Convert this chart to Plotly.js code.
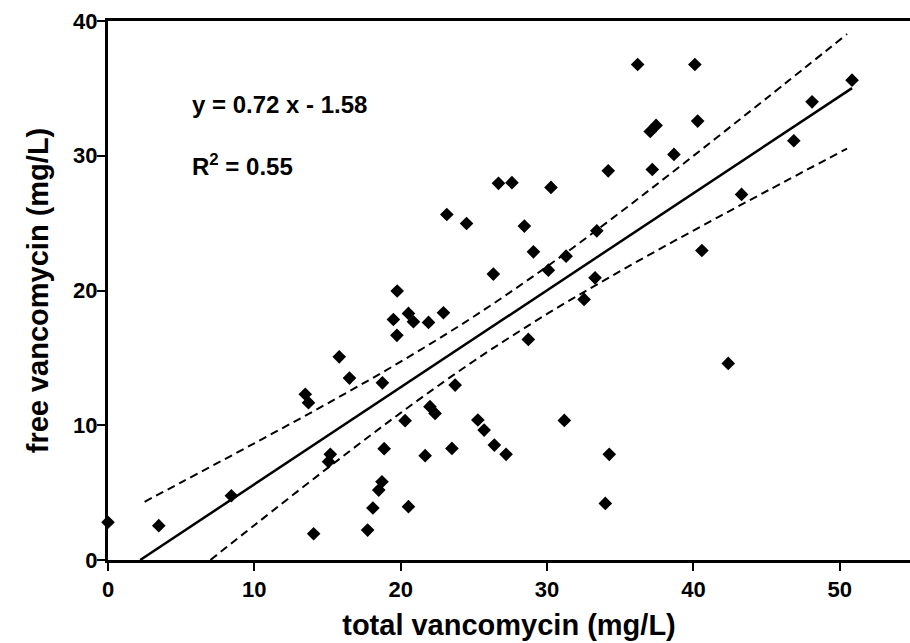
<!DOCTYPE html>
<html>
<head>
<meta charset="utf-8">
<script src="https://cdn.plot.ly/plotly-3.0.1.min.js"></script>
<style>html,body{margin:0;padding:0;background:#fff;}#chart{width:910px;height:643px;}</style>
</head>
<body>
<div id="chart"></div>
<script>
// Measured points: total vs free vancomycin (mg/L)
const totalVanco = [0, 3.47, 8.43, 13.48, 13.7, 14.05, 15.19, 15.07, 15.8, 16.5,
  17.74, 18.1, 18.5, 18.72, 18.87, 18.75, 19.5, 19.74, 19.76, 20.3,
  20.53, 20.53, 20.87, 21.67, 21.9, 22.0, 22.35, 22.92, 23.15, 23.5,
  23.72, 24.5, 25.27, 25.7, 26.33, 26.4, 26.68, 27.2, 27.6, 28.45,
  28.72, 29.07, 30.09, 30.27, 31.18, 31.3, 32.53, 33.28, 33.4, 33.98,
  34.18, 34.25, 36.19, 37.05, 37.19, 37.45, 38.67, 40.1, 40.29, 40.58,
  42.38, 43.29, 46.86, 48.11, 50.84];
const freeVanco = [2.8, 2.55, 4.77, 12.3, 11.67, 1.95, 7.84, 7.3, 15.08, 13.5,
  2.22, 3.86, 5.19, 5.81, 8.26, 13.15, 17.85, 16.67, 19.96, 10.34,
  3.96, 18.3, 17.68, 7.74, 17.63, 11.38, 10.88, 18.35, 25.64, 8.28,
  12.98, 24.97, 10.39, 9.64, 21.22, 8.53, 27.95, 7.84, 28.0, 24.78,
  16.37, 22.87, 21.51, 27.65, 10.36, 22.55, 19.34, 20.94, 24.43, 4.2,
  28.88, 7.84, 36.77, 31.8, 28.98, 32.25, 30.1, 36.77, 32.57, 22.97,
  14.59, 27.13, 31.11, 34.0, 35.61];

// Regression line end points (y = 0.72 x - 1.58)
const fitX = [2.2, 50.84];
const fitY = [0.0, 35.02];

// Confidence band points
const upperX = [2.5, 5, 10, 15, 20, 25, 30, 35, 40, 45, 50.5];
const upperY = [4.32, 5.76, 8.66, 11.62, 14.72, 18.07, 21.78, 25.80, 29.99, 34.27, 39.03];
const lowerX = [7.0, 10, 15, 20, 25, 30, 35, 40, 45, 50.5];
const lowerY = [0.0, 2.58, 6.82, 10.92, 14.77, 18.26, 21.44, 24.45, 27.37, 30.53];

const xTicks = [0, 10, 20, 30, 40, 50];
const yTicks = [0, 10, 20, 30, 40];

const FONT = 'Liberation Sans, Arial, Helvetica, sans-serif';

const traces = [
  {x: upperX, y: upperY, mode: 'lines', line: {color: '#000', width: 2, dash: '8px,5px', shape: 'spline'}, hoverinfo: 'skip'},
  {x: lowerX, y: lowerY, mode: 'lines', line: {color: '#000', width: 2, dash: '8px,5px', shape: 'spline'}, hoverinfo: 'skip'},
  {x: fitX, y: fitY, mode: 'lines', line: {color: '#000', width: 2.5}, hoverinfo: 'skip'},
  {x: totalVanco, y: freeVanco, mode: 'markers', cliponaxis: false,
   marker: {symbol: 'diamond', size: 10.5, color: '#000', line: {width: 0}}}
];

const axisCommon = {
  showgrid: false, zeroline: false, showline: true, linecolor: '#000', linewidth: 3,
  ticks: 'outside', ticklen: 8, tickwidth: 2, tickcolor: '#000', mirror: true,
  tickfont: {family: FONT, size: 22, color: '#000', weight: 700}
};

const layout = {
  width: 910, height: 643,
  margin: {l: 108, r: 0, t: 21, b: 83},
  paper_bgcolor: '#fff', plot_bgcolor: '#fff',
  showlegend: false,
  xaxis: Object.assign({}, axisCommon, {
    range: [0, 54.8], tickvals: xTicks, ticktext: xTicks.map(String),
    title: {text: 'total vancomycin (mg/L)', standoff: 14, font: {family: FONT, size: 29, color: '#000', weight: 700}}
  }),
  yaxis: Object.assign({}, axisCommon, {
    range: [0, 40], tickvals: yTicks, ticktext: yTicks.map(String), ticklabelstandoff: -5,
    title: {text: 'free vancomycin (mg/L)', standoff: 16, font: {family: FONT, size: 29, color: '#000', weight: 700}}
  }),
  annotations: [
    {x: 5.6, y: 33.84, xref: 'x', yref: 'y', xanchor: 'left', yanchor: 'middle', showarrow: false,
     text: 'y = 0.72 x - 1.58', font: {family: FONT, size: 24, color: '#000', weight: 700}},
    {x: 5.6, y: 29.3, xref: 'x', yref: 'y', xanchor: 'left', yanchor: 'middle', showarrow: false,
     text: 'R<sup>2</sup> = 0.55', font: {family: FONT, size: 24, color: '#000', weight: 700}}
  ]
};

Plotly.newPlot('chart', traces, layout, {displayModeBar: false, staticPlot: true});
</script>
</body>
</html>
